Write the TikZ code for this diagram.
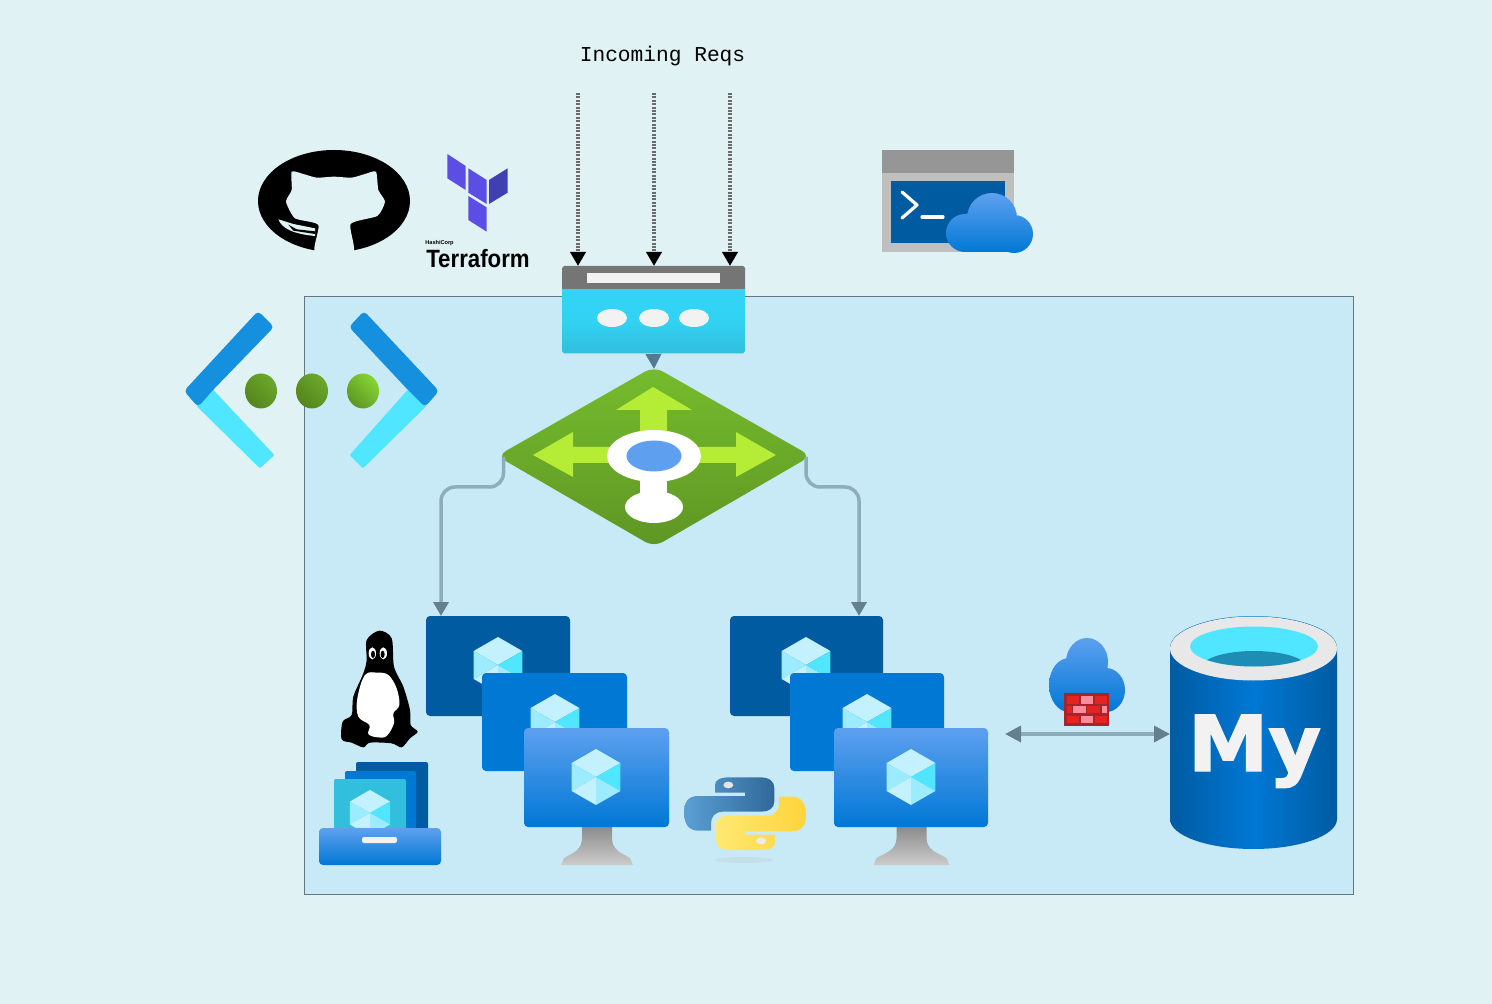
\documentclass[tikz,border=0pt]{standalone}
\usepackage{fontspec}
\usetikzlibrary{arrows.meta,calc,shapes.geometric}
\setmainfont{Liberation Sans}
\newfontfamily\reqfont{Liberation Mono}
\newfontfamily\myfont[BoldFeatures={FakeBold=1.8}]{DejaVu Sans}
\definecolor{pagebg}{HTML}{E0F2F3}
\definecolor{boxbg}{HTML}{C8EAF7}
\definecolor{boxline}{HTML}{66777C}
\definecolor{azdark}{HTML}{005BA1}
\definecolor{azmid}{HTML}{0078D4}
\definecolor{azlight}{HTML}{5EA0EF}
\definecolor{cubea}{HTML}{C3F1FF}
\definecolor{cubeb}{HTML}{9CEBFF}
\definecolor{cubec}{HTML}{50E6FF}
\definecolor{linegrey}{HTML}{8FACBB}
\definecolor{tipgrey}{HTML}{64808F}
\definecolor{tipblue}{HTML}{537A90}
\definecolor{gwtop}{HTML}{76BC2D}
\definecolor{gwbot}{HTML}{5E9624}
\definecolor{gwarrow}{HTML}{B4EC36}
\definecolor{tfa}{HTML}{5C4EE5}
\definecolor{tfb}{HTML}{4040B2}
\definecolor{tealc}{HTML}{32BEDD}
\definecolor{lbtop}{HTML}{32D4F5}
\definecolor{vnetblue}{HTML}{1490DF}
\definecolor{pyba}{HTML}{5A9FD4}
\definecolor{pybb}{HTML}{306998}
\definecolor{pyya}{HTML}{FFE873}
\definecolor{pyyb}{HTML}{FFD43B}
\definecolor{fwdark}{HTML}{A4262C}
\definecolor{fwred}{HTML}{E62323}
\definecolor{fwpink}{HTML}{FF8C9C}
\definecolor{water}{HTML}{1E8DB5}
\tikzset{
  slot/.style={inner sep=0pt,outer sep=0pt,draw=none,fill=none},
  flow/.style={line width=1.75pt,linegrey,rounded corners=7pt},
  dots/.style={line width=2.4pt,black!58,dash pattern=on 1pt off 0.7pt},
  intip/.style={-{Triangle[length=7pt,width=7.5pt,color=black]}},
  gtip/.style={-{Triangle[length=7pt,width=7.5pt,color=tipgrey]}},
  both/.style={{Triangle[length=8pt,width=8pt,color=tipgrey]}-{Triangle[length=8pt,width=8pt,color=tipgrey]}},
  zoomed/.style={shift={(#1)},scale=0.33333},
}
\newcommand{\azcube}[3]{%
  \fill[cubea] (#1,#2-#3) -- (#1+.87*#3,#2-.5*#3) -- (#1,#2) -- (#1-.87*#3,#2-.5*#3) -- cycle;
  \fill[cubeb] (#1-.87*#3,#2-.5*#3) -- (#1,#2) -- (#1-.87*#3,#2+.5*#3) -- cycle;
  \fill[cubec] (#1+.87*#3,#2-.5*#3) -- (#1,#2) -- (#1+.87*#3,#2+.5*#3) -- cycle;
  \fill[cubea] (#1-.87*#3,#2+.5*#3) -- (#1,#2) -- (#1,#2+#3) -- cycle;
  \fill[cubeb] (#1+.87*#3,#2+.5*#3) -- (#1,#2) -- (#1,#2+#3) -- cycle;
}
\newcommand{\azstand}[3]{%
  \shade[top color=black!45,bottom color=black!20]
    (#1-#2,827) -- (#1-#2,838) .. controls (#1-#2,850) and (#1-#3+12,853) .. (#1-#3+3,858) -- (#1-#3,865) --
    (#1+#3,865) -- (#1+#3-3,858) .. controls (#1+#3-12,853) and (#1+#2,850) .. (#1+#2,838) -- (#1+#2,827) -- cycle;
}
\begin{document}
\begin{tikzpicture}[x=0.5pt,y=-0.5pt]
\useasboundingbox (0,0) rectangle (1492,1004);
\fill[pagebg] (0,0) rectangle (1492,1004);
% virtual network frame
\draw[boxline,line width=0.45pt,fill=boxbg] (304.5,296.5) rectangle (1353.5,894);

% virtual network icon
\fill[cubec,line join=round,draw=cubec,line width=1pt] (198,406) -- (213,391) -- (273,455) -- (260,467) -- cycle;
\fill[cubec,line join=round,draw=cubec,line width=1pt] (425,406) -- (408,391) -- (351,455) -- (363,467) -- cycle;
\fill[vnetblue,rounded corners=2pt] (198,407) -- (184,391) -- (258,311) -- (274,327) -- (213,390) -- cycle;
\fill[vnetblue,rounded corners=2pt] (425,407) -- (439,391) -- (364,311) -- (349,327) -- (408,390) -- cycle;
\foreach \xx/\ca/\cb in {261/6AA82A/55851E,312/6AA82A/55851E,363/86D633/5E9624}{
  \definecolor{dotca}{HTML}{\ca}
  \definecolor{dotcb}{HTML}{\cb}
  \shade[left color=dotca,right color=dotcb,shading angle=-45] (\xx,391) ellipse (16 and 17.5);
}

% GitHub
\fill[black] (334,201) ellipse (76 and 51);
\begin{scope}[zoomed={240,130}]
  \fill[pagebg] plot[smooth cycle,tension=0.35] coordinates {
    (155,125) (190,132) (230,143) (282,140) (335,143) (375,132) (408,125) (415,180)
    (435,215) (412,258) (332,282) (340,368) (225,368) (235,285) (165,265) (138,215) (155,180)};
  \fill[pagebg] (225,295) -- (160,282) -- (115,268) .. controls (125,295) and (160,312) .. (225,318) -- cycle;
  \fill[black] (145,284) -- (170,298) -- (225,304) -- (225,312) -- (160,302) -- cycle;
\end{scope}

% Terraform
\begin{scope}[zoomed={240,130}]
  \fill[tfa] (622,72) -- (677,108) -- (677,180) -- (622,145) -- cycle;
  \fill[tfa] (685,115) -- (740,150) -- (740,222) -- (685,188) -- cycle;
  \fill[tfb] (747,150) -- (803,115) -- (803,188) -- (747,222) -- cycle;
  \fill[tfa] (685,198) -- (740,232) -- (740,305) -- (685,270) -- cycle;
\end{scope}
\node[inner sep=0pt,anchor=base] (hashi) at (439.5,245) {\fontsize{2.8}{3}\selectfont\bfseries HashiCorp};
\node[inner sep=0pt,anchor=base] (tform) at (478,268) {\fontsize{12.5}{14}\selectfont\bfseries\scalebox{0.89}[1]{Terraform}};

% Title
\node[inner sep=0pt] (incoming) at (662.5,56) {\reqfont\fontsize{10.6}{12}\selectfont Incoming Reqs};

% Cloud shell
\fill[black!25] (882,173) rectangle (1014,252);
\fill[black!41] (882,150) rectangle (1014,173);
\fill[azdark] (891,181) rectangle (1005,243);
\draw[white,line width=1.6pt,line cap=round,line join=round] (902,192) -- (917,205) -- (902,218);
\draw[white,line width=1.6pt,line cap=round] (922,217) -- (943,217);
\shade[top color=azlight,bottom color=azmid]
  (992,218) circle (25) (965,233) circle (19) (1014,234) circle (19)
  (965,252) rectangle (1014,214);

% Load balancer
\node[slot,minimum width=91.5pt,minimum height=44pt] (lb) at (653.5,310) {};
\shade[top color=lbtop,bottom color=tealc,middle color=lbtop!90!tealc] (562,289) -- (745,289) -- (745,351) -- (743,353.5) -- (564,353.5) -- (562,351) -- cycle;
\fill[black!54] (562,289) -- (562,268) -- (564,266) -- (743,266) -- (745,268) -- (745,289) -- cycle;
\fill[black!5] (587,273) rectangle (720,283);
\foreach \xx in {612,654,694}{\fill[black!5] (\xx,318) ellipse (15 and 9);}

% Application gateway
\node[slot,minimum width=152pt,minimum height=88pt] (gw) at (654,457) {};
\shade[top color=gwtop,bottom color=gwbot,rounded corners=5pt] (654,366.5) -- (811,456) -- (654,547) -- (497,456) -- cycle;
\fill[gwarrow] (653,387) -- (692,410) -- (667,410) -- (667,445) -- (640,445) -- (640,410) -- (616,410) -- cycle;
\fill[gwarrow] (533,455) -- (573,432) -- (573,447) -- (620,447) -- (620,463) -- (573,463) -- (573,477) -- cycle;
\fill[gwarrow] (776,455) -- (736,432) -- (736,447) -- (690,447) -- (690,463) -- (736,463) -- (736,477) -- cycle;
\fill[white] (640,470) rectangle (667,500);
\fill[white] (654,507) ellipse (29 and 16);
\fill[white] (654,456) ellipse (47 and 26);
\fill[azlight] (654,456) ellipse (27.5 and 15.5);

% Linux
\begin{scope}[zoomed={320,610}]
  \fill[black] plot[smooth cycle,tension=0.5] coordinates {
    (178,62) (215,85) (222,170) (250,230) (270,300) (272,345) (293,365) (270,385) (245,412)
    (215,400) (150,398) (130,412) (95,398) (65,388) (68,335) (95,315) (100,260) (130,190) (140,150) (140,90)};
  \fill[white] plot[smooth cycle,tension=0.6] coordinates {
    (172,188) (135,195) (112,265) (115,320) (148,345) (145,372) (172,382) (200,378) (222,340) (220,310) (238,285) (230,235) (205,195)};
  \fill[white] (157,130) ellipse (11 and 18);
  \fill[white] (190,130) ellipse (11 and 18);
  \fill[black] (159,133) ellipse (6 and 11);
  \fill[black] (188,133) ellipse (6 and 11);
\end{scope}

% Scale set
\fill[azdark,rounded corners=1pt] (356,762) rectangle (428,832);
\fill[azmid,rounded corners=1pt] (345,771) rectangle (416,832);
\fill[tealc,rounded corners=1pt] (334,779) rectangle (406,832);
\azcube{370}{813}{23}
\shade[top color=azlight,bottom color=azmid,rounded corners=2pt] (319,828) rectangle (441,865);
\fill[black!5,rounded corners=1pt] (362,837) rectangle (397,843);

% Left VM group
\node[slot,minimum width=72pt,minimum height=50pt] (vmL) at (498,666) {};
\fill[azdark,rounded corners=2pt] (426,616) rectangle (570,716);
\azcube{498}{665}{28}
\fill[azmid,rounded corners=2pt] (482,673) rectangle (627,771);
\azcube{555}{722}{28}
\azstand{597}{15}{36}
\shade[top color=azlight,bottom color=azmid,rounded corners=2pt] (524,728) rectangle (669,827);
\azcube{596}{777}{28}

% Right VM group
\node[slot,minimum width=76.5pt,minimum height=50pt] (vmR) at (806.5,666) {};
\fill[azdark,rounded corners=2pt] (730,616) rectangle (883,716);
\azcube{806}{665}{28}
\fill[azmid,rounded corners=2pt] (790,673) rectangle (944,771);
\azcube{867}{722}{28}
\azstand{911.5}{15}{38}
\shade[top color=azlight,bottom color=azmid,rounded corners=2pt] (834,728) rectangle (988,827);
\azcube{911}{777}{28}

% Python
\fill[black!25,opacity=.25] (743.5,860) ellipse (29 and 3);
\begin{scope}[zoomed={680,610}]
  \shade[left color=pyba,right color=pybb]
    (105,548) -- (105,525) .. controls (105,510) and (120,502) .. (150,502) -- (240,502)
    .. controls (270,502) and (283,515) .. (283,535) -- (283,575) .. controls (283,595) and (265,605) .. (245,605)
    -- (130,605) .. controls (105,605) and (93,620) .. (93,640) -- (93,662) -- (55,662)
    .. controls (25,662) and (12,640) .. (12,608) .. controls (12,575) and (25,558) .. (55,558)
    -- (195,558) -- (195,548) -- cycle;
  \shade[left color=pyya,right color=pyyb]
    (285,674) -- (285,697) .. controls (285,712) and (270,720) .. (240,720) -- (150,720)
    .. controls (120,720) and (107,707) .. (107,687) -- (107,647) .. controls (107,627) and (125,617) .. (145,617)
    -- (260,617) .. controls (285,617) and (297,602) .. (297,582) -- (297,560) -- (335,560)
    .. controls (365,560) and (378,582) .. (378,614) .. controls (378,647) and (365,664) .. (335,664)
    -- (195,664) -- (195,674) -- cycle;
  \fill[black!10] (145,525) ellipse (15 and 10);
  \fill[black!8] (243,693) ellipse (15 and 10);
\end{scope}

% Firewall
\shade[top color=azlight,bottom color=azmid]
  (1087,662) ellipse (21 and 24) (1069,685) ellipse (20 and 27) (1106,690) ellipse (19 and 22);
\begin{scope}[zoomed={1000,610}]
  \fill[fwdark] (192,248) rectangle (327,348);
  \foreach \ya/\yb in {258/282,318/340}{
    \fill[fwred] (200,\ya) rectangle (238,\yb);
    \fill[fwpink] (243,\ya) rectangle (280,\yb);
    \fill[fwred] (284,\ya) rectangle (320,\yb);
  }
  \fill[fwred] (200,288) rectangle (215,310);
  \fill[fwpink] (220,288) rectangle (258,310);
  \fill[fwred] (262,288) rectangle (300,310);
  \fill[fwpink] (305,288) rectangle (320,310);
\end{scope}

% MySQL
\node[slot,minimum width=83.5pt,minimum height=116pt] (db) at (1253.5,733) {};
\shade[left color=azdark,right color=azdark,middle color=azmid]
  (1170,648) -- (1170,819) arc[start angle=180,end angle=360,x radius=83.5,y radius=-30]
  -- (1337,648) arc[start angle=0,end angle=180,x radius=83.5,y radius=-32] -- cycle;
\fill[black!9] (1253.5,648.5) ellipse (83.5 and 32);
\fill[cubec] (1254,646.5) ellipse (64 and 20);
\begin{scope}
  \clip (1254,646.5) ellipse (64 and 20);
  \fill[water] (1254,667) ellipse (52 and 16);
\end{scope}
\node[inner sep=0pt,anchor=base,text=black!5] (mytxt) at (1254.5,771) {\myfont\bfseries\fontsize{38.5}{40}\selectfont\scalebox{1.05}[1]{My}};

% Connectors
\coordinate (in1) at (578,93);
\coordinate (in2) at (654,93);
\coordinate (in3) at (730,93);
\coordinate (fwl) at (1005,734);
\foreach \c in {in1,in2,in3}{\draw[dots,intip] (\c) -- (\c |- lb.north);}
\draw[line width=1.75pt,linegrey,-{Triangle[length=7.5pt,width=7.5pt,color=tipblue]}] (lb.south) -- (gw.north);
\draw[flow,gtip] (gw.west) ++(1.5,0) -- ++(0,30) -| ($(vmL.north west)+(15,0)$);
\draw[flow,gtip] (gw.east) -- ++(0,30) -| ($(vmR.north east)-(24,0)$);
\draw[line width=1.75pt,linegrey,both] (fwl) -- (fwl -| db.west);
\end{tikzpicture}
\end{document}
